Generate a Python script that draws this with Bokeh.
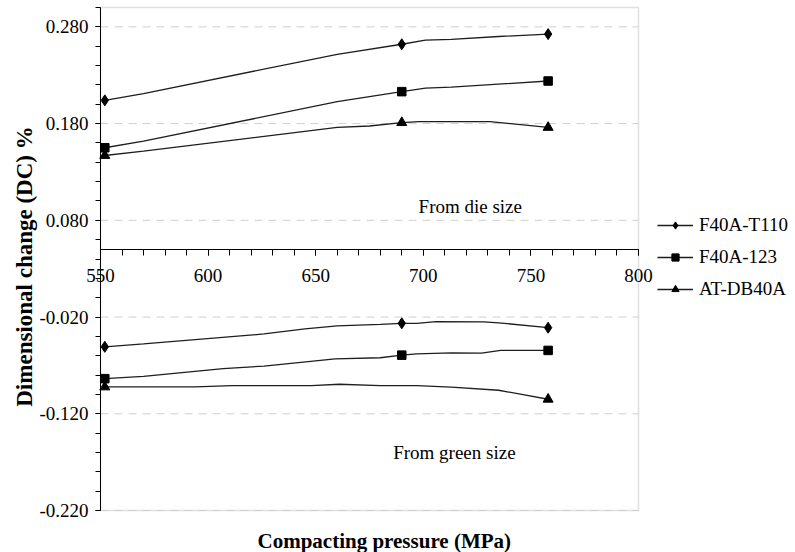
import numpy as np
from bokeh.plotting import figure
from bokeh.models import (Range1d, FixedTicker, NumeralTickFormatter, Legend, LegendItem,
                          Label, BoxAnnotation)
from bokeh.embed import file_html
from bokeh.resources import INLINE

# ---------------- data ----------------
series_names = ["F40A-T110", "F40A-123", "AT-DB40A"]
marker_x = [552, 690, 758]          # measured points (shown with markers)

# "From die size" group
t110_die_x = [552, 570, 660, 690, 701, 713, 735, 758]
t110_die_y = [0.204, 0.211, 0.2516, 0.262, 0.2663, 0.267, 0.270, 0.2725]
f123_die_x = [552, 570, 660, 690, 701, 713, 758]
f123_die_y = [0.155, 0.1618, 0.2026, 0.213, 0.2167, 0.2177, 0.224]
atdb_die_x = [552, 570, 660, 675, 690, 698, 731, 758]
atdb_die_y = [0.147, 0.1515, 0.176, 0.1775, 0.181, 0.182, 0.182, 0.176]

# "From green size" group
t110_green_x = [552, 570, 626, 645, 660, 680, 690, 697, 706, 728, 735, 758]
t110_green_y = [-0.0508, -0.0478, -0.0375, -0.0323, -0.0292, -0.0275, -0.0265,
                -0.0265, -0.0248, -0.025, -0.026, -0.031]
f123_green_x = [552, 570, 607, 626, 659, 680, 690, 697, 713, 727, 736, 758]
f123_green_y = [-0.0837, -0.0813, -0.0734, -0.0707, -0.0632, -0.0621, -0.0594,
                -0.058, -0.0570, -0.0573, -0.0545, -0.0545]
atdb_green_x = [552, 594, 611, 648, 661, 680, 697, 713, 735, 747, 758]
atdb_green_y = [-0.0923, -0.0923, -0.0909, -0.0909, -0.0895, -0.0909, -0.0909,
                -0.0925, -0.0957, -0.1005, -0.105]

x_min, x_max = 550, 800
y_min, y_max = -0.22, 0.30
x_ticks = [550, 600, 650, 700, 750, 800]
y_ticks = [-0.22, -0.12, -0.02, 0.08, 0.18, 0.28]
x_axis_crossing = 0.05

annotations = [("From die size", 697.8, 0.0947), ("From green size", 686.0, -0.160)]
x_title = "Compacting pressure (MPa)"
y_title = "Dimensional change (DC) %"

# ---------------- layout (pixels) ----------------
W, H = 795, 552
FL, FR, FT, FB = 100, 638, 7, 510          # visible plot box edges
kx = (FR - FL) / (x_max - x_min)
ky = (FB - FT) / (y_max - y_min)

FONT = "Liberation Serif"
FS = "19px"
LINE_COLOR = "#1e1e1e"
markers = [dict(marker="diamond", size=11),
           dict(marker="square", size=8.5),
           dict(marker="triangle", size=10)]

p = figure(width=W, height=H, frame_width=W, frame_height=H,
           min_border=0,
           x_range=Range1d(x_min - FL / kx, x_max + (W - FR) / kx),
           y_range=Range1d(y_min - (H - FB) / ky, y_max + FT / ky),
           output_backend="svg", toolbar_location=None,
           background_fill_color="white", border_fill_color="white")
p.outline_line_color = None
p.xgrid.grid_line_color = None
p.ygrid.grid_line_color = None

# plot box
p.add_layout(BoxAnnotation(left=x_min, right=x_max, bottom=y_min, top=y_max,
                           fill_alpha=0, line_color="#9a9a9a", line_width=1.5,
                           level="underlay"))

# dashed horizontal grid lines at the major y ticks
p.segment(x0=[x_min] * len(y_ticks), x1=[x_max] * len(y_ticks), y0=y_ticks, y1=y_ticks,
          line_color="#cfcfcf", line_dash="8 6", line_width=1)

# x axis crossing at y = 0.05
xa = p.xaxis[0]
xa.fixed_location = x_axis_crossing
xa.bounds = (x_min, x_max)
xa.ticker = FixedTicker(ticks=x_ticks, minor_ticks=list(range(x_min, x_max + 1, 10)))
xa.axis_line_color = "black"
xa.major_tick_line_color = "black"
xa.minor_tick_line_color = "black"
xa.major_tick_out = 6
xa.major_tick_in = 0
xa.minor_tick_out = 6
xa.minor_tick_in = 0
xa.major_label_standoff = 14
xa.major_label_text_font = FONT
xa.major_label_text_font_size = FS
xa.major_label_text_color = "black"

# y axis at x = 550
ya = p.yaxis[0]
ya.fixed_location = x_min
ya.bounds = (y_min, y_max)
ya.ticker = FixedTicker(ticks=y_ticks,
                        minor_ticks=list(np.round(np.arange(y_min, y_max + 0.0001, 0.02), 2)))
ya.formatter = NumeralTickFormatter(format="0.000")
ya.axis_line_color = "black"
ya.major_tick_line_color = "black"
ya.minor_tick_line_color = "black"
ya.major_tick_out = 5
ya.major_tick_in = 0
ya.minor_tick_out = 5
ya.minor_tick_in = 0
ya.major_label_standoff = 7
ya.major_label_text_font = FONT
ya.major_label_text_font_size = FS
ya.major_label_text_color = "black"

groups = [
    [(t110_die_x, t110_die_y), (f123_die_x, f123_die_y), (atdb_die_x, atdb_die_y)],
    [(t110_green_x, t110_green_y), (f123_green_x, f123_green_y), (atdb_green_x, atdb_green_y)],
]

legend_renderers = {}
for g, group in enumerate(groups):
    for i, (xs, ys) in enumerate(group):
        lr = p.line(xs, ys, line_color=LINE_COLOR, line_width=1.3)
        mx = [x for x in xs if x in marker_x]
        my = [y for x, y in zip(xs, ys) if x in marker_x]
        sr = p.scatter(mx, my, fill_color="black", line_color="black", **markers[i])
        if g == 0:
            legend_renderers[series_names[i]] = [lr, sr]

legend = Legend(items=[LegendItem(label=n, renderers=legend_renderers[n]) for n in series_names],
                location=(657, 252), orientation="vertical",
                glyph_width=36, glyph_height=18, label_height=18, spacing=10,
                padding=0, margin=0, label_standoff=6,
                border_line_color=None, background_fill_alpha=0,
                label_text_font=FONT, label_text_font_size=FS, label_text_color="black")
p.add_layout(legend)

for txt, ax, ay in annotations:
    p.add_layout(Label(x=ax, y=ay, text=txt, text_font=FONT, text_font_size=FS,
                       text_baseline="middle", text_align="left", text_color="black"))

p.add_layout(Label(x=257, y=H - 540, x_units="screen", y_units="screen", text=x_title,
                   text_font=FONT, text_font_size="21px", text_font_style="bold",
                   text_baseline="middle", text_align="left", text_color="black"))
p.add_layout(Label(x=24, y=H - 266, x_units="screen", y_units="screen", text=y_title,
                   angle=np.pi / 2, text_font=FONT, text_font_size="23px",
                   text_font_style="bold", text_baseline="middle", text_align="center",
                   text_color="black"))

open("out.html", "w").write(file_html(p, INLINE))
